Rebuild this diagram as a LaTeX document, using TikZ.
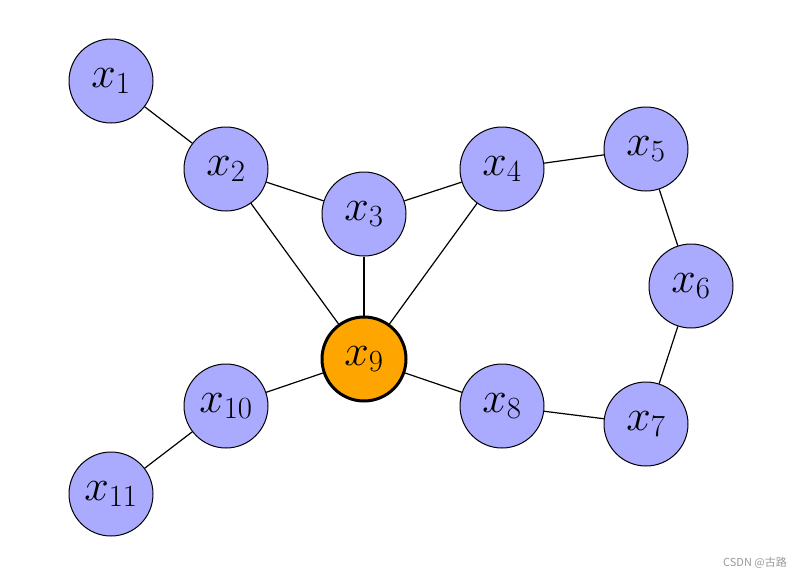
\RequirePackage{fix-cm}
\documentclass[tikz,border=0pt]{standalone}
\usepackage{fontspec}
\newfontfamily\cjkfont{Noto Sans CJK SC}
\definecolor{hubor}{HTML}{FFA500}
\definecolor{vblue}{HTML}{AAAAFF}
\begin{document}
\begin{tikzpicture}[x=1pt,y=-1pt,
  vert/.style={circle,draw=black,line width=1pt,fill=vblue,minimum size=84pt,inner sep=0pt,font=\fontsize{44}{52}\selectfont},
  hub/.style={vert,fill=hubor,line width=3pt},
  edge/.style={line width=1.2pt}]
\useasboundingbox (0,0) rectangle (803,579);
\node[vert] (x1) at (111,81) {$x_1$};
\node[vert] (x2) at (226,169) {$x_2$};
\node[vert] (x3) at (364,214) {$x_3$};
\node[vert] (x4) at (502,169) {$x_4$};
\node[vert] (x5) at (646,149) {$x_5$};
\node[vert] (x6) at (691,286) {$x_6$};
\node[vert] (x7) at (646,424) {$x_7$};
\node[vert] (x8) at (502,406) {$x_8$};
\node[hub] (x9) at (364,359) {$x_9$};
\node[vert] (x10) at (226,406) {$x_{10}$};
\node[vert] (x11) at (111,494) {$x_{11}$};
\foreach \a/\b in {x1/x2,x2/x3,x3/x4,x4/x5,x5/x6,x6/x7,x7/x8,x8/x9,x9/x10,x10/x11,x2/x9,x3/x9,x4/x9}
  \draw[edge] (\a) -- (\b);
\node[text=gray!80,font=\cjkfont\fontsize{11}{13}\selectfont] (wm) at (755,563) {CSDN @古路};
\end{tikzpicture}
\end{document}
